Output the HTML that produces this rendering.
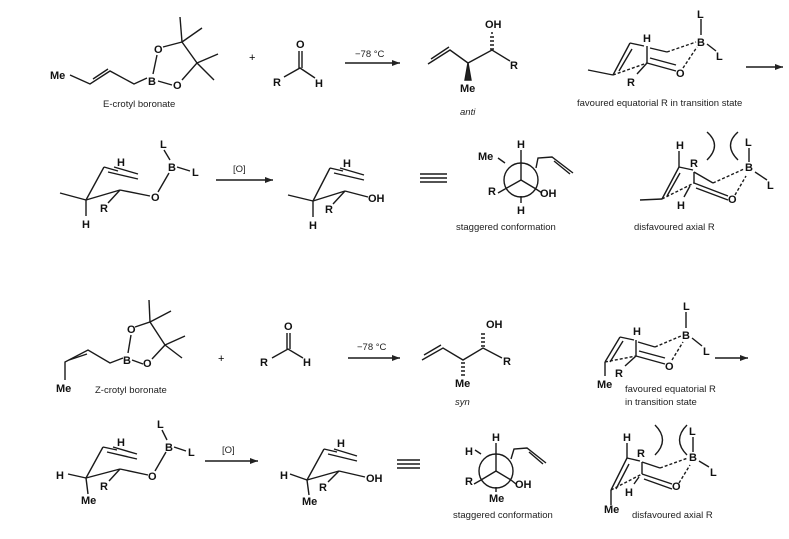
<!DOCTYPE html>
<html><head><meta charset="utf-8"><style>
html,body{margin:0;padding:0;background:#fff;}
svg{display:block;}
text{font-family:"Liberation Sans",sans-serif;}
.a{font-weight:bold;font-size:11px;fill:#111;}
.c{font-size:9.5px;fill:#222;}
line,polyline,path{stroke:#1a1a1a;stroke-width:1.4;fill:none;}
.d{stroke-dasharray:3,2;}
</style></head><body>
<svg width="789" height="539" viewBox="0 0 789 539" xmlns="http://www.w3.org/2000/svg">
<defs><marker id="ar" markerWidth="8" markerHeight="6" refX="8" refY="3" orient="auto" markerUnits="userSpaceOnUse"><path d="M0,0 L8,3 L0,6 Z" style="fill:#222;stroke:none"/></marker></defs>

<!-- ===== TOP: E-crotyl ===== -->
<text class="a" x="50" y="79">Me</text>
<polyline points="70,75 90,84 110,71 134,84 147,78"/>
<line x1="93" y1="79" x2="108" y2="69"/>
<text class="a" x="148" y="85">B</text>
<line x1="153" y1="74" x2="157" y2="55"/>
<text class="a" x="154" y="53">O</text>
<line x1="158" y1="81" x2="172" y2="85"/>
<text class="a" x="173" y="89">O</text>
<polyline points="163,47 182,42 197,63 182,80"/>
<line x1="182" y1="42" x2="180" y2="17"/><line x1="182" y1="42" x2="202" y2="28"/>
<line x1="197" y1="63" x2="218" y2="54"/><line x1="197" y1="63" x2="214" y2="80"/>
<text class="c" x="103" y="107">E-crotyl boronate</text>
<text x="249" y="61" style="font-size:11px">+</text>
<text class="a" x="296" y="48">O</text>
<line x1="299" y1="51" x2="299" y2="68"/><line x1="302" y1="51" x2="302" y2="68"/>
<polyline points="284,77 300,68 315,78"/>
<text class="a" x="273" y="86">R</text><text class="a" x="315" y="87">H</text>
<line x1="345" y1="63" x2="400" y2="63" marker-end="url(#ar)"/>
<text class="c" x="355" y="57">−78 °C</text>
<!-- anti -->
<polyline points="428,64 450,50 468,63 492,50 510,61"/>
<line x1="431" y1="59" x2="449" y2="47"/>
<text class="a" x="485" y="28">OH</text>
<path d="M490,49 h4 M490,45 h4 M490,41 h4 M490,37 h4 M491,33 h2" />
<path d="M468,63 L465,80 L471,80 Z" style="fill:#222"/>
<text class="a" x="510" y="69">R</text>
<text class="a" x="460" y="92">Me</text>
<text class="c" x="460" y="115" style="font-style:italic">anti</text>
<!-- favoured TS -->
<line x1="588" y1="70" x2="613" y2="75"/>
<line x1="613" y1="75" x2="630" y2="43"/><line x1="619" y1="71" x2="632" y2="49"/>
<line x1="630" y1="43" x2="644" y2="46"/>
<text class="a" x="643" y="42">H</text>
<line x1="647" y1="46" x2="647" y2="63"/>
<line x1="650" y1="48" x2="667" y2="52"/>
<line class="d" x1="667" y1="52" x2="696" y2="42"/>
<text class="a" x="697" y="46">B</text>
<line x1="701" y1="35" x2="701" y2="19"/><text class="a" x="697" y="18">L</text>
<line x1="707" y1="44" x2="716" y2="51"/><text class="a" x="716" y="60">L</text>
<line class="d" x1="613" y1="75" x2="647" y2="63"/>
<line x1="647" y1="63" x2="676" y2="71"/><line x1="650" y1="58" x2="676" y2="65"/>
<text class="a" x="676" y="77">O</text>
<line class="d" x1="683" y1="68" x2="697" y2="47"/>
<line x1="647" y1="63" x2="637" y2="74"/>
<text class="a" x="627" y="86">R</text>
<line x1="746" y1="67" x2="783" y2="67" marker-end="url(#ar)"/>
<text class="c" x="577" y="106">favoured equatorial R in transition state</text>

<!-- ===== Row 2 ===== -->
<line x1="60" y1="193" x2="86" y2="200"/>
<line x1="86" y1="200" x2="104" y2="167"/>
<line x1="104" y1="167" x2="118" y2="171"/>
<line x1="108" y1="172" x2="138" y2="179"/><line x1="114" y1="167" x2="138" y2="174"/>
<text class="a" x="117" y="166">H</text>
<line x1="86" y1="200" x2="86" y2="216"/><text class="a" x="82" y="228">H</text>
<line x1="86" y1="200" x2="120" y2="190"/>
<line x1="120" y1="190" x2="108" y2="203"/><text class="a" x="100" y="212">R</text>
<line x1="120" y1="190" x2="150" y2="196"/><text class="a" x="151" y="201">O</text>
<line x1="158" y1="192" x2="169" y2="173"/>
<text class="a" x="168" y="171">B</text>
<line x1="170" y1="160" x2="164" y2="150"/><text class="a" x="160" y="148">L</text>
<line x1="177" y1="167" x2="190" y2="171"/><text class="a" x="192" y="176">L</text>
<line x1="216" y1="180" x2="273" y2="180" marker-end="url(#ar)"/>
<text class="c" x="233" y="172">[O]</text>
<line x1="288" y1="195" x2="313" y2="201"/>
<line x1="313" y1="201" x2="330" y2="168"/>
<line x1="330" y1="168" x2="343" y2="171"/>
<line x1="334" y1="173" x2="364" y2="180"/><line x1="340" y1="168" x2="364" y2="175"/>
<text class="a" x="343" y="167">H</text>
<line x1="313" y1="201" x2="313" y2="217"/><text class="a" x="309" y="229">H</text>
<line x1="313" y1="201" x2="345" y2="191"/>
<line x1="345" y1="191" x2="333" y2="204"/><text class="a" x="325" y="213">R</text>
<line x1="345" y1="191" x2="368" y2="197"/><text class="a" x="368" y="202">OH</text>
<path d="M420,174 H447 M420,178 H447 M420,182 H447"/>
<!-- Newman 1 -->
<circle cx="521" cy="180" r="17" style="fill:none;stroke:#1a1a1a;stroke-width:1.4"/>
<line x1="521" y1="180" x2="521" y2="150"/><text class="a" x="517" y="148">H</text>
<line x1="521" y1="180" x2="505" y2="189"/><line x1="521" y1="180" x2="536" y2="189"/>
<line x1="521" y1="196" x2="521" y2="203"/><text class="a" x="517" y="214">H</text>
<line x1="505" y1="163" x2="498" y2="158"/><text class="a" x="478" y="160">Me</text>
<line x1="505" y1="189" x2="498" y2="193"/><text class="a" x="488" y="195">R</text>
<line x1="536" y1="189" x2="542" y2="193"/><text class="a" x="540" y="197">OH</text>
<polyline points="536,168 538,158 552,157 573,173"/><line x1="554" y1="161" x2="570" y2="174"/>
<text class="c" x="456" y="230">staggered conformation</text>
<!-- disfavoured 1 -->
<line x1="640" y1="200" x2="662" y2="199"/>
<line x1="662" y1="199" x2="679" y2="167"/><line x1="667" y1="196" x2="680" y2="173"/>
<line x1="679" y1="167" x2="679" y2="151"/><text class="a" x="676" y="149">H</text>
<line x1="679" y1="167" x2="693" y2="170"/><text class="a" x="690" y="167">R</text>
<line x1="694" y1="172" x2="694" y2="183"/>
<line x1="694" y1="172" x2="713" y2="183"/>
<line class="d" x1="713" y1="183" x2="744" y2="169"/>
<line class="d" x1="662" y1="199" x2="694" y2="183"/>
<line x1="694" y1="183" x2="728" y2="196"/><line x1="696" y1="188" x2="728" y2="200"/>
<text class="a" x="728" y="203">O</text>
<line class="d" x1="735" y1="195" x2="746" y2="176"/>
<text class="a" x="745" y="171">B</text>
<line x1="749" y1="162" x2="749" y2="148"/><text class="a" x="745" y="146">L</text>
<line x1="755" y1="172" x2="767" y2="180"/><text class="a" x="767" y="189">L</text>
<line x1="690" y1="186" x2="684" y2="197"/><text class="a" x="677" y="209">H</text>
<path d="M707,132 Q722,145 707,160"/><path d="M738,132 Q723,145 738,160"/>
<text class="c" x="634" y="230">disfavoured axial R</text>

<!-- ===== BOTTOM: Z-crotyl ===== -->
<polyline points="65,380 65,362 88,350 110,363 123,358"/>
<line x1="69" y1="360" x2="87" y2="354"/>
<text class="a" x="56" y="392">Me</text>
<text class="a" x="123" y="364">B</text>
<line x1="128" y1="353" x2="131" y2="335"/>
<text class="a" x="127" y="333">O</text>
<line x1="132" y1="360" x2="143" y2="364"/>
<text class="a" x="143" y="367">O</text>
<polyline points="135,327 150,322 165,345 152,359"/>
<line x1="150" y1="322" x2="149" y2="300"/><line x1="150" y1="322" x2="171" y2="311"/>
<line x1="165" y1="345" x2="185" y2="336"/><line x1="165" y1="345" x2="182" y2="358"/>
<text class="c" x="95" y="393" style="font-size:9.5px">Z-crotyl boronate</text>
<text x="218" y="362" style="font-size:11px">+</text>
<text class="a" x="284" y="330">O</text>
<line x1="287" y1="333" x2="287" y2="349"/><line x1="290" y1="333" x2="290" y2="349"/>
<polyline points="272,358 288,349 303,358"/>
<text class="a" x="260" y="366">R</text><text class="a" x="303" y="366">H</text>
<line x1="348" y1="358" x2="400" y2="358" marker-end="url(#ar)"/>
<text class="c" x="357" y="350">−78 °C</text>
<!-- syn -->
<polyline points="422,360 443,348 463,360 483,348 502,358"/>
<line x1="424" y1="355" x2="441" y2="345"/>
<text class="a" x="486" y="328">OH</text>
<path d="M481,346 h4 M481,342 h4 M481,338 h4 M481,334 h4" />
<text class="a" x="503" y="365">R</text>
<path d="M461,363 h4 M461,367 h4 M461,371 h4 M461,375 h4" />
<text class="a" x="455" y="387">Me</text>
<text class="c" x="455" y="405" style="font-style:italic">syn</text>
<!-- favoured TS 2 -->
<line x1="605" y1="362" x2="605" y2="376"/>
<line x1="605" y1="362" x2="620" y2="337"/><line x1="610" y1="362" x2="623" y2="341"/>
<line x1="620" y1="337" x2="634" y2="340"/><text class="a" x="633" y="335">H</text>
<line x1="636" y1="340" x2="636" y2="356"/>
<line x1="638" y1="342" x2="655" y2="347"/>
<line class="d" x1="655" y1="347" x2="681" y2="336"/>
<text class="a" x="682" y="339">B</text>
<line x1="686" y1="328" x2="686" y2="312"/><text class="a" x="683" y="310">L</text>
<line x1="692" y1="338" x2="702" y2="346"/><text class="a" x="703" y="355">L</text>
<line class="d" x1="605" y1="362" x2="636" y2="356"/>
<line x1="636" y1="356" x2="665" y2="364"/><line x1="639" y1="351" x2="665" y2="358"/>
<text class="a" x="665" y="370">O</text>
<line class="d" x1="672" y1="360" x2="683" y2="342"/>
<line x1="636" y1="356" x2="625" y2="366"/><text class="a" x="615" y="377">R</text>
<text class="a" x="597" y="388">Me</text>
<text class="c" x="625" y="392">favoured equatorial R</text>
<text class="c" x="625" y="405">in transition state</text>
<line x1="715" y1="358" x2="748" y2="358" marker-end="url(#ar)"/>
<!-- Row 4 -->
<line x1="68" y1="474" x2="86" y2="478"/><text class="a" x="56" y="479">H</text>
<line x1="86" y1="478" x2="103" y2="447"/>
<line x1="103" y1="447" x2="117" y2="450"/>
<line x1="107" y1="452" x2="137" y2="459"/><line x1="113" y1="447" x2="137" y2="454"/>
<text class="a" x="117" y="446">H</text>
<line x1="86" y1="478" x2="88" y2="494"/><text class="a" x="81" y="504">Me</text>
<line x1="86" y1="478" x2="120" y2="469"/>
<line x1="120" y1="469" x2="109" y2="481"/><text class="a" x="100" y="490">R</text>
<line x1="120" y1="469" x2="148" y2="475"/><text class="a" x="148" y="480">O</text>
<line x1="155" y1="471" x2="166" y2="452"/>
<text class="a" x="165" y="451">B</text>
<line x1="167" y1="440" x2="162" y2="430"/><text class="a" x="157" y="428">L</text>
<line x1="174" y1="447" x2="186" y2="451"/><text class="a" x="188" y="456">L</text>
<line x1="205" y1="461" x2="258" y2="461" marker-end="url(#ar)"/>
<text class="c" x="222" y="453">[O]</text>
<line x1="290" y1="474" x2="307" y2="480"/><text class="a" x="280" y="479">H</text>
<line x1="307" y1="480" x2="324" y2="449"/>
<line x1="324" y1="449" x2="337" y2="452"/>
<line x1="328" y1="454" x2="357" y2="461"/><line x1="334" y1="449" x2="357" y2="456"/>
<text class="a" x="337" y="447">H</text>
<line x1="307" y1="480" x2="309" y2="495"/><text class="a" x="302" y="505">Me</text>
<line x1="307" y1="480" x2="339" y2="471"/>
<line x1="339" y1="471" x2="328" y2="482"/><text class="a" x="319" y="491">R</text>
<line x1="339" y1="471" x2="365" y2="477"/><text class="a" x="366" y="482">OH</text>
<path d="M397,460 H420 M397,464 H420 M397,468 H420"/>
<!-- Newman 2 -->
<circle cx="496" cy="471" r="17" style="fill:none;stroke:#1a1a1a;stroke-width:1.4"/>
<line x1="496" y1="471" x2="496" y2="443"/><text class="a" x="492" y="441">H</text>
<line x1="496" y1="471" x2="481" y2="480"/><line x1="496" y1="471" x2="511" y2="480"/>
<line x1="496" y1="487" x2="496" y2="492"/><text class="a" x="489" y="502">Me</text>
<line x1="481" y1="454" x2="475" y2="450"/><text class="a" x="465" y="455">H</text>
<line x1="481" y1="480" x2="474" y2="484"/><text class="a" x="465" y="485">R</text>
<line x1="511" y1="480" x2="516" y2="484"/><text class="a" x="515" y="488">OH</text>
<polyline points="511,459 514,449 527,448 546,463"/><line x1="529" y1="452" x2="543" y2="464"/>
<text class="c" x="453" y="518">staggered conformation</text>
<!-- disfavoured 2 -->
<line x1="611" y1="490" x2="611" y2="505"/>
<line x1="611" y1="490" x2="627" y2="458"/><line x1="616" y1="489" x2="629" y2="464"/>
<line x1="627" y1="458" x2="627" y2="443"/><text class="a" x="623" y="441">H</text>
<line x1="627" y1="458" x2="640" y2="461"/><text class="a" x="637" y="457">R</text>
<line x1="642" y1="462" x2="642" y2="474"/>
<line x1="642" y1="462" x2="660" y2="468"/>
<line class="d" x1="660" y1="468" x2="688" y2="458"/>
<line class="d" x1="611" y1="490" x2="642" y2="474"/>
<line x1="642" y1="474" x2="672" y2="484"/><line x1="644" y1="479" x2="672" y2="489"/>
<text class="a" x="672" y="490">O</text>
<line class="d" x1="679" y1="483" x2="690" y2="465"/>
<text class="a" x="689" y="461">B</text>
<line x1="693" y1="452" x2="693" y2="437"/><text class="a" x="689" y="435">L</text>
<line x1="699" y1="461" x2="709" y2="467"/><text class="a" x="710" y="476">L</text>
<line x1="639" y1="477" x2="634" y2="484"/><text class="a" x="625" y="496">H</text>
<path d="M655,425 Q670,440 655,455"/><path d="M687,425 Q672,440 687,455"/>
<text class="a" x="604" y="513">Me</text>
<text class="c" x="632" y="518">disfavoured axial R</text>
</svg>
</body></html>
